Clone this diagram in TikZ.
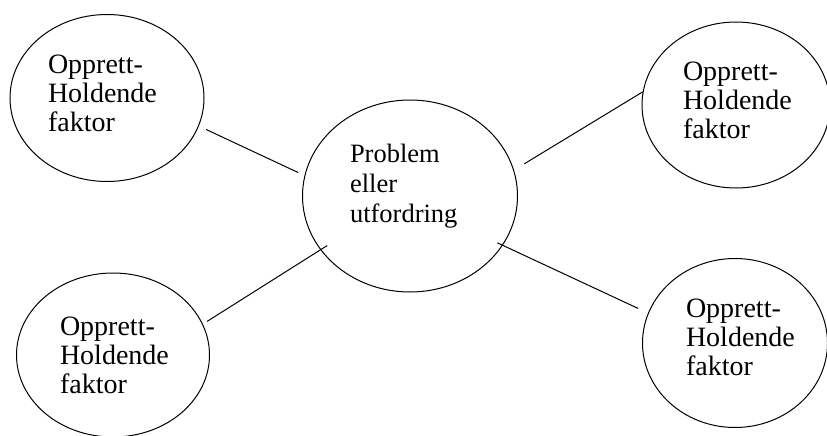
\documentclass[tikz,border=0pt]{standalone}
\usepackage{fontspec}
\setmainfont{Liberation Serif}
\usetikzlibrary{shapes.geometric}

\begin{document}
\begin{tikzpicture}[x=1pt,y=-1pt,
    factor/.style={ellipse, draw, line width=1pt, inner sep=0pt, align=left,
      font=\fontsize{28}{29}\selectfont},
    problem/.style={factor, font=\fontsize{26.5}{30}\selectfont}]
    \useasboundingbox (0,0) rectangle (827,436);
    \node [problem, minimum width=215pt, minimum height=192pt, text width=120pt, text depth=86pt] (c) at (410,196) {Problem\\eller\\utfordring};
    \node [factor, minimum width=194pt, minimum height=167pt, text width=118pt, text depth=68pt] (tl) at (107,98) {Opprett-\\Holdende\\faktor};
    \node [factor, minimum width=188pt, minimum height=166pt, text width=106pt, text depth=68pt] (tr) at (736,105) {Opprett-\\Holdende\\faktor};
    \node [factor, minimum width=193pt, minimum height=164pt, text width=106pt, text depth=58pt] (bl) at (113,355) {Opprett-\\Holdende\\faktor};
    \node [factor, minimum width=185pt, minimum height=169pt, text width=98pt, text depth=70pt] (br) at (735,343) {Opprett-\\Holdende\\faktor};
    \draw [line width=1pt, shorten <=8pt, shorten >=7pt] (tl.-17) -- (c.169);
    \draw [line width=1pt, shorten <=5pt, shorten >=-8pt] (bl.19) -- (c.211);
    \draw [line width=1pt, shorten <=12pt] (c.14) -- (tr.172);
    \draw [line width=1pt, shorten <=-6pt, shorten >=11pt] (c.-28) -- (br.161);
\end{tikzpicture}
\end{document}
